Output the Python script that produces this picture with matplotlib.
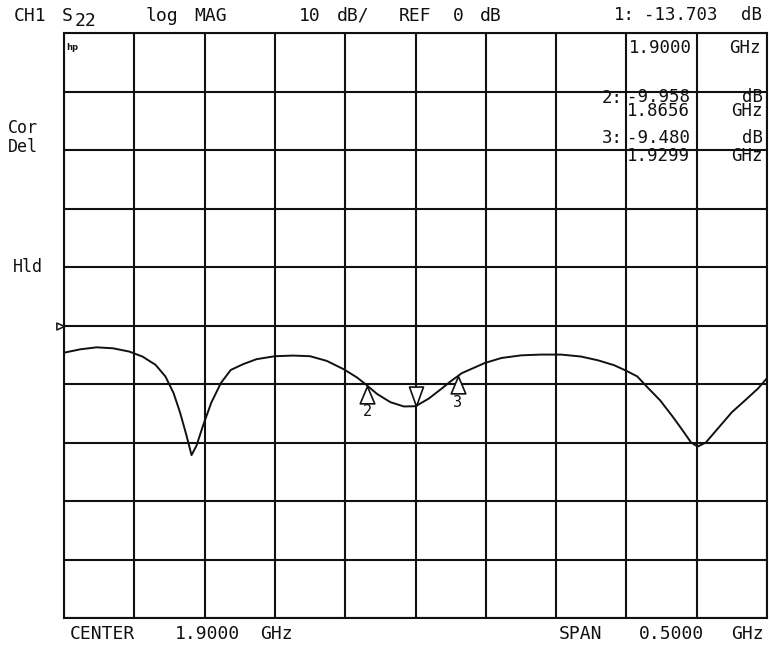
import numpy as np
import matplotlib
matplotlib.use("Agg")
import matplotlib.pyplot as plt
from matplotlib.path import Path

# ---- data ----
freq_ghz = [1.6500, 1.6616, 1.6733, 1.6849, 1.6965, 1.7058, 1.7151, 1.7221,
            1.7279, 1.7326, 1.7372, 1.7407, 1.7442, 1.7488, 1.7547, 1.7616,
            1.7686, 1.7774, 1.7869, 1.8000, 1.8131, 1.8250, 1.8369, 1.8488,
            1.8583, 1.8643, 1.8726, 1.8821, 1.8917, 1.9000, 1.9094, 1.9188,
            1.9247, 1.9329, 1.9494, 1.9612, 1.9753, 1.9894, 2.0035, 2.0176,
            2.0298, 2.0414, 2.0500, 2.0577, 2.0647, 2.0740, 2.0833, 2.0902,
            2.0960, 2.1007, 2.1065, 2.1158, 2.1251, 2.1344, 2.1437, 2.1500]
s22_db = [-4.65, -4.07, -3.73, -3.90, -4.46, -5.31, -6.72, -8.70,
          -11.53, -14.92, -18.87, -22.15, -20.56, -17.18, -13.22, -9.83,
          -7.60, -6.61, -5.76, -5.25, -5.14, -5.25, -6.05, -7.46,
          -8.87, -10.00, -11.69, -13.10, -13.84, -13.80, -12.50, -10.75,
          -9.60, -8.15, -6.40, -5.55, -5.10, -4.97, -4.97, -5.30,
          -5.95, -6.80, -7.75, -8.70, -10.50, -12.80, -15.70, -18.00,
          -20.00, -20.70, -20.00, -17.40, -14.80, -12.80, -10.75, -9.00]

marker_ids = ["1", "2", "3"]
marker_freq = [1.9000, 1.8656, 1.9299]
marker_db = [-13.703, -9.958, -9.480]
marker_freq_text = ["1.9000", "1.8656", "1.9299"]
marker_db_text = ["-13.703", "-9.958", "-9.480"]

center_text = "1.9000"
span_text = "0.5000"
x_start, x_stop = 1.65, 2.15
db_per_div = 10
ref_db = 0

W, H = 770, 646
fig = plt.figure(figsize=(W / 100, H / 100), dpi=100)
fig.patch.set_facecolor("white")
ax = fig.add_axes([64 / W, 1 - 618 / H, 703 / W, 585 / H])
ax.set_xlim(x_start, x_stop)
ax.set_ylim(ref_db - 5 * db_per_div, ref_db + 5 * db_per_div)
ax.set_xticks(np.linspace(x_start, x_stop, 11))
ax.set_yticks(np.arange(ref_db - 5 * db_per_div, ref_db + 5 * db_per_div + 1, db_per_div))
ax.grid(True, color="#111111", lw=1.5)
ax.tick_params(length=0, labelbottom=False, labelleft=False)
for s in ax.spines.values():
    s.set_linewidth(1.5)
    s.set_color("#111111")

ax.plot(freq_ghz, s22_db, color="#111111", lw=1.4, zorder=3,
        solid_joinstyle="round")

# marker symbols sit on the trace at the marker frequencies
marker_y = np.interp(marker_freq, freq_ghz, s22_db)
up_tri = Path([(0, 0), (-0.42, -1), (0.42, -1), (0, 0)], closed=True)
down_tri = Path([(0, 0), (-0.36, 1), (0.36, 1), (0, 0)], closed=True)
ax.plot([marker_freq[0]], [marker_y[0]], marker=down_tri, ms=28, mfc="white",
        mec="#111111", mew=1.2, ls="none", zorder=4)
ax.plot(marker_freq[1:], marker_y[1:], marker=up_tri, ms=25, mfc="white",
        mec="#111111", mew=1.2, ls="none", zorder=4)
for mid, f, d in zip(marker_ids[1:], marker_freq[1:], marker_y[1:]):
    ax.annotate(mid, (f, d), xytext=(0, -19), textcoords="offset points",
                ha="center", va="center", fontsize=11, family="DejaVu Sans Mono",
                color="#111111")

# reference position marker on the left
ref_tri = Path([(0, 0), (-1, 0.45), (-1, -0.45), (0, 0)], closed=True)
ax.plot([x_start], [ref_db], marker=ref_tri, ms=11, mfc="white", mec="#111111",
        mew=1.1, ls="none", clip_on=False, zorder=5)

MONO = "DejaVu Sans Mono"


def T(x, y, s, size=13, ha="center", **kw):
    fig.text(x / W, 1 - y / H, s, ha=ha, va="center", fontsize=size,
             family=MONO, color="#111111", **kw)


# header
T(30, 16, "CH1")
T(67, 16, "S")
T(86, 21, "22")
T(162, 16, "log")
T(211, 16, "MAG")
T(310, 16, "10")
T(353, 16, "dB/")
T(415, 16, "REF")
T(458, 16, str(ref_db))
T(491, 16, "dB")

# marker readouts
T(635, 15, "1:", size=12.5, ha="right")
T(681, 15, marker_db_text[0], size=12.5)
T(752, 15, "dB", size=12.5)
T(660, 48, marker_freq_text[0], size=12.5)
T(745, 48, "GHz", size=12.5)

T(623, 98, "2:", size=12.5, ha="right")
T(627, 104, marker_db_text[1] + "\n" + marker_freq_text[1], size=12.5,
  ha="left", linespacing=0.72)
T(763, 104, "dB\nGHz", size=12.5, ha="right", linespacing=0.72, multialignment="right")

T(623, 138, "3:", size=12.5, ha="right")
T(627, 147, marker_db_text[2] + "\n" + marker_freq_text[2], size=12.5,
  ha="left", linespacing=1.0)
T(763, 147, "dB\nGHz", size=12.5, ha="right", linespacing=1.0, multialignment="right")

# left annotations
T(23, 128, "Cor", size=12)
T(23, 147, "Del", size=12)
T(28, 267, "Hld", size=12)
fig.text(66 / W, 1 - 47 / H, "hp", ha="left", va="center", fontsize=6,
         family="DejaVu Sans", weight="bold", color="#111111")

# footer
T(102, 634, "CENTER")
T(207, 634, center_text)
T(276, 634, "GHz")
T(580, 634, "SPAN")
T(671, 634, span_text)
T(747, 634, "GHz")

fig.savefig("out.png", dpi=100, facecolor="white")
